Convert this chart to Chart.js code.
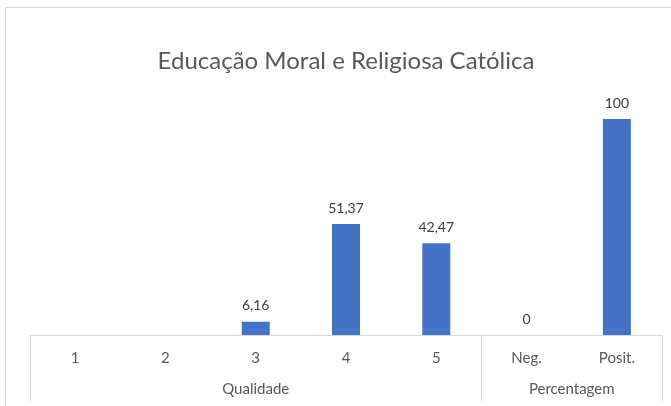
<!DOCTYPE html>
<html>
<head>
<meta charset="utf-8">
<script src="https://cdn.jsdelivr.net/npm/chart.js@4.4.1/dist/chart.umd.min.js"></script>
<style>
  html, body { margin: 0; padding: 0; background: #ffffff; }
  #wrap { width: 671px; height: 406px; }
</style>
</head>
<body>
<div id="wrap"><canvas id="chart" width="671" height="406"></canvas></div>
<script>
// Chart data
const categories = ['1', '2', '3', '4', '5', 'Neg.', 'Posit.'];
const values = [null, null, 6.16, 51.37, 42.47, 0, 100];
const groupLabels = ['Qualidade', 'Percentagem'];
const groupSizes = [5, 2];

const FONT = 'Lato, "Liberation Sans", sans-serif';
const LINE = '#d9d9d9';

// White background + outer frame (top and left edges visible)
const framePlugin = {
    id: 'frame',
    beforeDraw(chart) {
        const ctx = chart.ctx;
        ctx.save();
        ctx.fillStyle = '#ffffff';
        ctx.fillRect(0, 0, chart.width, chart.height);
        ctx.strokeStyle = LINE;
        ctx.lineWidth = 1;
        ctx.beginPath();
        ctx.moveTo(5.5, chart.height);
        ctx.lineTo(5.5, 7.5);
        ctx.lineTo(chart.width, 7.5);
        ctx.stroke();
        ctx.restore();
    }
};

// Multi-level category axis: box lines and group labels
const groupAxisPlugin = {
    id: 'groupAxis',
    afterDraw(chart) {
        const x = chart.scales.x;
        const ctx = chart.ctx;
        const top = x.top;
        const bottom = x.bottom;
        const half = (x.getPixelForValue(1) - x.getPixelForValue(0)) / 2;

        ctx.save();
        ctx.strokeStyle = LINE;
        ctx.lineWidth = 1;
        ctx.beginPath();
        ctx.moveTo(x.left, Math.round(top) + 0.5);
        ctx.lineTo(x.right, Math.round(top) + 0.5);
        ctx.stroke();

        ctx.font = '15px ' + FONT;
        ctx.fillStyle = '#595959';
        ctx.textAlign = 'center';
        ctx.textBaseline = 'middle';

        let start = 0;
        const edges = [x.getPixelForValue(0) - half];
        groupSizes.forEach((size, i) => {
            const end = start + size - 1;
            const l = x.getPixelForValue(start) - half;
            const r = x.getPixelForValue(end) + half;
            edges.push(r);
            ctx.fillText(groupLabels[i], (l + r) / 2, top + 54);
            start += size;
        });

        ctx.beginPath();
        edges.forEach(e => {
            const px = Math.round(e) + 0.5;
            ctx.moveTo(px, top);
            ctx.lineTo(px, bottom);
        });
        ctx.stroke();
        ctx.restore();
    }
};

// Value labels above each bar
const valueLabelPlugin = {
    id: 'valueLabels',
    afterDatasetsDraw(chart) {
        const ctx = chart.ctx;
        const meta = chart.getDatasetMeta(0);
        ctx.save();
        ctx.font = '14px ' + FONT;
        ctx.fillStyle = '#404040';
        ctx.textAlign = 'center';
        ctx.textBaseline = 'middle';
        meta.data.forEach((bar, i) => {
            const v = values[i];
            if (v === null) return;
            ctx.fillText(String(v).replace('.', ','), bar.x, bar.y - 16);
        });
        ctx.restore();
    }
};

new Chart(document.getElementById('chart'), {
    type: 'bar',
    data: {
        labels: categories,
        datasets: [{
            data: values,
            backgroundColor: '#4472c4',
            borderWidth: 0,
            categoryPercentage: 1,
            barPercentage: 0.31
        }]
    },
    options: {
        responsive: false,
        animation: false,
        layout: {
            padding: { left: 30, right: 9, top: 0, bottom: 5 }
        },
        plugins: {
            legend: { display: false },
            tooltip: { enabled: false },
            title: {
                display: true,
                text: 'Educação Moral e Religiosa Católica',
                color: '#595959',
                font: { family: FONT, size: 24, weight: 'normal' },
                padding: { top: 47, bottom: 0 }
            }
        },
        scales: {
            x: {
                grid: { display: false },
                border: { display: false },
                ticks: {
                    color: '#595959',
                    font: { family: FONT, size: 15 },
                    padding: 6,
                    maxRotation: 0
                },
                afterFit(scale) {
                    scale.height = 66;
                }
            },
            y: {
                display: false,
                min: 0,
                max: 120
            }
        }
    },
    plugins: [framePlugin, groupAxisPlugin, valueLabelPlugin]
});
</script>
</body>
</html>
